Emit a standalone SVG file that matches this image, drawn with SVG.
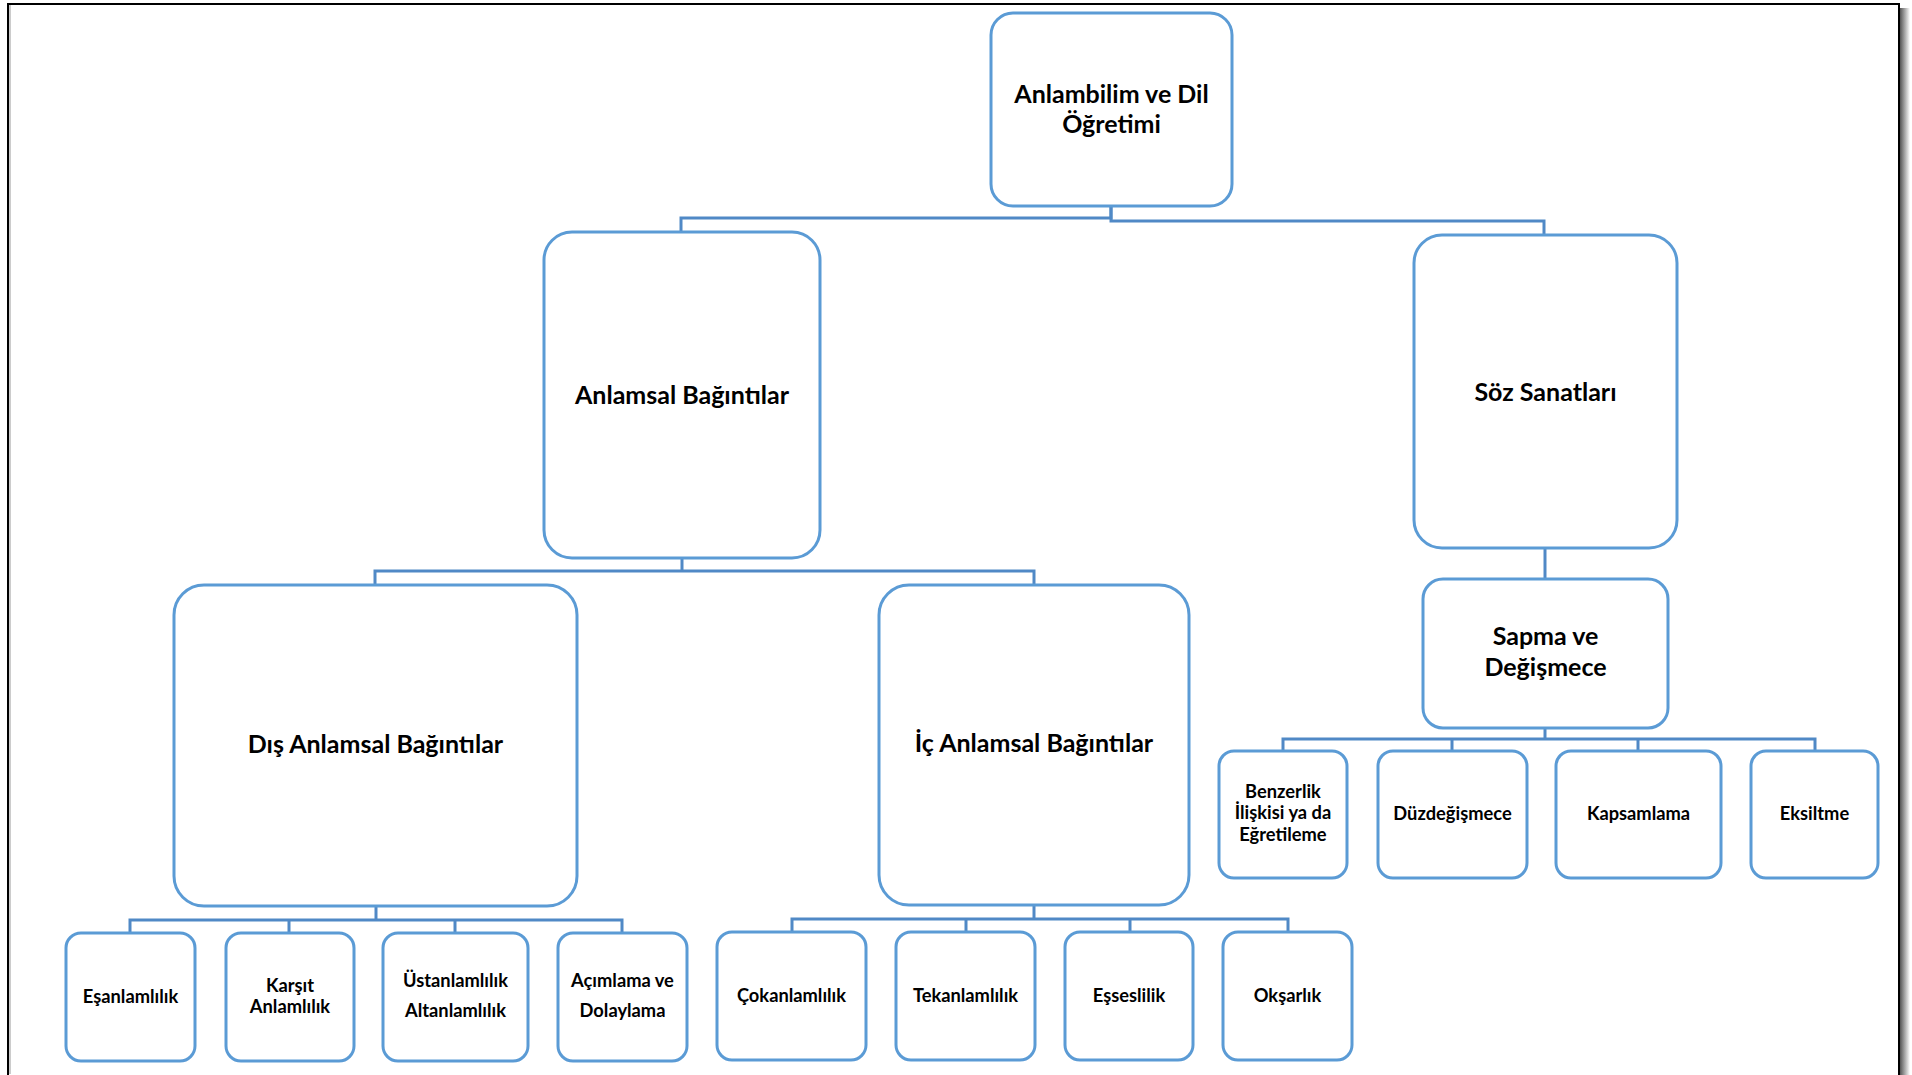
<svg xmlns="http://www.w3.org/2000/svg" width="1912" height="1075" viewBox="0 0 1912 1075">
<defs>
<linearGradient id="shR" x1="0" y1="0" x2="1" y2="0">
<stop offset="0" stop-color="#555"/>
<stop offset="0.5" stop-color="#aaa"/>
<stop offset="1" stop-color="#fff"/>
</linearGradient>
<style>
.box{fill:#fff;stroke:#5b9bd5;stroke-width:3}
.con{fill:none;stroke:#5089c6;stroke-width:3}
.big{font-family:Lato,"Liberation Sans",sans-serif;font-weight:bold;font-size:25px;fill:#000;text-anchor:middle}
.sm{font-family:Lato,"Liberation Sans",sans-serif;font-weight:bold;font-size:18.3px;fill:#000;text-anchor:middle}
</style>
</defs>
<rect x="0" y="0" width="1912" height="1075" fill="#fff"/>
<rect x="1900" y="8" width="10" height="1067" fill="url(#shR)"/>
<rect x="8" y="4" width="1891" height="1072" fill="#fff" stroke="#000" stroke-width="2"/>
<line x1="10" y1="5" x2="10" y2="1074" stroke="#bbb" stroke-width="1.5"/>

<g id="connectors">
<path class="con" d="M681,232 V218 H1111 V206"/>
<path class="con" d="M1111,206 V221 H1544 V235"/>
<path class="con" d="M682,558 V571"/>
<path class="con" d="M375,585 V571 H1034 V585"/>
<path class="con" d="M376,906 V920"/>
<path class="con" d="M130,933 V920 H622 V933"/>
<path class="con" d="M289,920 V933 M455,920 V933"/>
<path class="con" d="M1034,905 V919"/>
<path class="con" d="M792,932 V919 H1288 V932"/>
<path class="con" d="M966,919 V932 M1130,919 V932"/>
<path class="con" d="M1545,548 V579"/>
<path class="con" d="M1545,728 V739"/>
<path class="con" d="M1283,751 V739 H1815 V751"/>
<path class="con" d="M1452,739 V751 M1638,739 V751"/>
</g>

<g id="root"><rect class="box" x="991" y="13" width="241" height="193" rx="22"/>
<text class="big" x="1111.5" y="103">Anlambilim ve Dil</text><text class="big" x="1111.5" y="133">Öğretimi</text></g>
<g id="anlamsal"><rect class="box" x="544" y="232" width="276" height="326" rx="28"/>
<text class="big" x="682" y="404">Anlamsal Bağıntılar</text></g>
<g id="soz"><rect class="box" x="1414" y="235" width="263" height="313" rx="28"/>
<text class="big" x="1545.5" y="401">Söz Sanatları</text></g>
<g id="dis"><rect class="box" x="174" y="585" width="403" height="321" rx="30"/>
<text class="big" x="375.5" y="753">Dış Anlamsal Bağıntılar</text></g>
<g id="ic"><rect class="box" x="879" y="585" width="310" height="320" rx="30"/>
<text class="big" x="1034" y="752">İç Anlamsal Bağıntılar</text></g>
<g id="sapma"><rect class="box" x="1423" y="579" width="245" height="149" rx="20"/>
<text class="big" x="1545.5" y="645">Sapma ve</text><text class="big" x="1545.5" y="676">Değişmece</text></g>

<g id="esanlamlilik"><rect class="box" x="66" y="933" width="129" height="128" rx="15"/>
<text class="sm" x="130.5" y="1002.5">Eşanlamlılık</text></g>
<g id="karsit"><rect class="box" x="226" y="933" width="128" height="128" rx="15"/>
<text class="sm" x="290" y="991.5">Karşıt</text><text class="sm" x="290" y="1012.5">Anlamlılık</text></g>
<g id="ustanlamlilik"><rect class="box" x="383" y="933" width="145" height="128" rx="15"/>
<text class="sm" x="455.5" y="986.5">Üstanlamlılık</text><text class="sm" x="455.5" y="1016.5">Altanlamlılık</text></g>
<g id="acimlama"><rect class="box" x="558" y="933" width="129" height="128" rx="15"/>
<text class="sm" x="622.5" y="986.5">Açımlama ve</text><text class="sm" x="622.5" y="1016.5">Dolaylama</text></g>

<g id="cokanlamlilik"><rect class="box" x="717" y="932" width="149" height="128" rx="15"/>
<text class="sm" x="791.5" y="1001.5">Çokanlamlılık</text></g>
<g id="tekanlamlilik"><rect class="box" x="896" y="932" width="139" height="128" rx="15"/>
<text class="sm" x="965.5" y="1001.5">Tekanlamlılık</text></g>
<g id="esseslilik"><rect class="box" x="1065" y="932" width="128" height="128" rx="15"/>
<text class="sm" x="1129" y="1001.5">Eşseslilik</text></g>
<g id="oksarlik"><rect class="box" x="1223" y="932" width="129" height="128" rx="15"/>
<text class="sm" x="1287.5" y="1001.5">Okşarlık</text></g>

<g id="benzerlik"><rect class="box" x="1219" y="751" width="128" height="127" rx="15"/>
<text class="sm" x="1283" y="797.5">Benzerlik</text><text class="sm" x="1283" y="818.5">İlişkisi ya da</text><text class="sm" x="1283" y="840.5">Eğretileme</text></g>
<g id="duzdegismece"><rect class="box" x="1378" y="751" width="149" height="127" rx="15"/>
<text class="sm" x="1452.5" y="819.5">Düzdeğişmece</text></g>
<g id="kapsamlama"><rect class="box" x="1556" y="751" width="165" height="127" rx="15"/>
<text class="sm" x="1638.5" y="819.5">Kapsamlama</text></g>
<g id="eksiltme"><rect class="box" x="1751" y="751" width="127" height="127" rx="15"/>
<text class="sm" x="1814.5" y="819.5">Eksiltme</text></g>
</svg>
